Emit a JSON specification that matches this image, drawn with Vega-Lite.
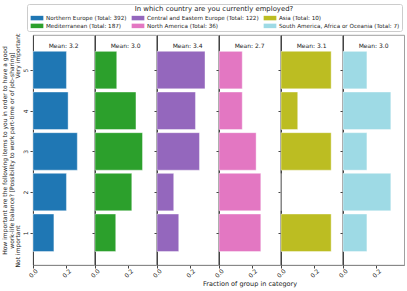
{
  "$schema": "https://vega.github.io/schema/vega-lite/v6.json",
  "padding": {"left": 0, "top": 3, "right": 5, "bottom": 0},
  "bounds": "flush",
  "spacing": 0,
  "config": {
    "font": "DejaVu Sans",
    "view": {"stroke": "#888", "strokeWidth": 0.8},
    "axis": {"grid": false, "labelFontSize": 6, "labelColor": "#222", "tickColor": "#444", "tickSize": 3, "domainColor": "#444", "titleFontSize": 6, "titleFontWeight": "normal", "titleColor": "#222"},
    "legend": {"orient": "none", "legendX": -6, "legendY": -31, "direction": "horizontal", "columns": 3, "gridAlign": "each", "titleAnchor": "middle", "titleFontSize": 6.9, "titleFontWeight": "normal", "titleColor": "#222", "titleLimit": 400, "labelLimit": 300, "labelFontSize": 5.65, "labelColor": "#222", "symbolType": "M-2.4,-0.85H2.4V0.85H-2.4Z", "symbolSize": 28, "symbolOffset": 5, "symbolStrokeWidth": 0, "symbolOpacity": 1, "strokeColor": "#ccc", "fillColor": "white", "padding": 2, "cornerRadius": 2, "rowPadding": 2, "columnPadding": 3, "labelOffset": 6, "titlePadding": 2}
  },
  "datasets": {
    "rows": [
      {"label": "Northern Europe (Total: 392)", "cat": 1, "frac": 0.125},
      {"label": "Northern Europe (Total: 392)", "cat": 2, "frac": 0.2},
      {"label": "Northern Europe (Total: 392)", "cat": 3, "frac": 0.265},
      {"label": "Northern Europe (Total: 392)", "cat": 4, "frac": 0.21},
      {"label": "Northern Europe (Total: 392)", "cat": 5, "frac": 0.2},
      {"label": "Mediterranean (Total: 187)", "cat": 1, "frac": 0.124},
      {"label": "Mediterranean (Total: 187)", "cat": 2, "frac": 0.22},
      {"label": "Mediterranean (Total: 187)", "cat": 3, "frac": 0.284},
      {"label": "Mediterranean (Total: 187)", "cat": 4, "frac": 0.245},
      {"label": "Mediterranean (Total: 187)", "cat": 5, "frac": 0.13},
      {"label": "Central and Eastern Europe (Total: 122)", "cat": 1, "frac": 0.13},
      {"label": "Central and Eastern Europe (Total: 122)", "cat": 2, "frac": 0.1},
      {"label": "Central and Eastern Europe (Total: 122)", "cat": 3, "frac": 0.254},
      {"label": "Central and Eastern Europe (Total: 122)", "cat": 4, "frac": 0.23},
      {"label": "Central and Eastern Europe (Total: 122)", "cat": 5, "frac": 0.287},
      {"label": "North America (Total: 36)", "cat": 1, "frac": 0.25},
      {"label": "North America (Total: 36)", "cat": 2, "frac": 0.25},
      {"label": "North America (Total: 36)", "cat": 3, "frac": 0.222},
      {"label": "North America (Total: 36)", "cat": 4, "frac": 0.139},
      {"label": "North America (Total: 36)", "cat": 5, "frac": 0.139},
      {"label": "Asia (Total: 10)", "cat": 1, "frac": 0.3},
      {"label": "Asia (Total: 10)", "cat": 2, "frac": 0},
      {"label": "Asia (Total: 10)", "cat": 3, "frac": 0.3},
      {"label": "Asia (Total: 10)", "cat": 4, "frac": 0.1},
      {"label": "Asia (Total: 10)", "cat": 5, "frac": 0.3},
      {"label": "South America, Africa or Oceania (Total: 7)", "cat": 1, "frac": 0.143},
      {"label": "South America, Africa or Oceania (Total: 7)", "cat": 2, "frac": 0.286},
      {"label": "South America, Africa or Oceania (Total: 7)", "cat": 3, "frac": 0.143},
      {"label": "South America, Africa or Oceania (Total: 7)", "cat": 4, "frac": 0.286},
      {"label": "South America, Africa or Oceania (Total: 7)", "cat": 5, "frac": 0.143}
    ],
    "means": [
      {"label": "Northern Europe (Total: 392)", "mean": "Mean: 3.2"},
      {"label": "Mediterranean (Total: 187)", "mean": "Mean: 3.0"},
      {"label": "Central and Eastern Europe (Total: 122)", "mean": "Mean: 3.4"},
      {"label": "North America (Total: 36)", "mean": "Mean: 2.7"},
      {"label": "Asia (Total: 10)", "mean": "Mean: 3.1"},
      {"label": "South America, Africa or Oceania (Total: 7)", "mean": "Mean: 3.0"}
    ]
  },
  "hconcat": [
    {
      "width": 61.2, "height": 230,
      "layer": [
        {
          "data": {"name": "rows"},
          "transform": [{"filter": "datum.label == 'Northern Europe (Total: 392)'"}],
          "mark": {"type": "bar", "orient": "horizontal", "size": 37.5, "stroke": "white", "strokeOpacity": 0.5, "strokeWidth": 0.8},
          "encoding": {
            "x": {"field": "frac", "type": "quantitative", "scale": {"domain": [0, 0.366], "nice": false}, "axis": {"values": [0, 0.2], "format": ".1f", "labelAngle": -45, "labelAlign": "center", "labelBaseline": "middle", "labelPadding": 5, "title": null, "domainColor": "#888"}},
            "y": {"field": "cat", "type": "quantitative", "scale": {"domain": [0.33, 5.74], "nice": false, "zero": false}, "axis": {"values": [1, 2, 3, 4, 5], "format": "d", "labelAngle": -90, "labelAlign": "center", "labelBaseline": "bottom", "labelPadding": 2, "titleLineHeight": 6.8, "titlePadding": 1, "title": ["How important are the following items to you in order to have a good", "work-life balance? [Possibility to work part-time or of job-sharing]", "Not important\u00a0\u00a0\u00a0\u00a0\u00a0\u00a0\u00a0\u00a0\u00a0\u00a0\u00a0\u00a0\u00a0\u00a0\u00a0\u00a0\u00a0\u00a0\u00a0\u00a0\u00a0\u00a0\u00a0\u00a0\u00a0\u00a0\u00a0\u00a0\u00a0\u00a0\u00a0\u00a0\u00a0\u00a0\u00a0\u00a0\u00a0\u00a0\u00a0\u00a0\u00a0\u00a0\u00a0\u00a0\u00a0\u00a0\u00a0\u00a0\u00a0\u00a0\u00a0\u00a0\u00a0\u00a0\u00a0\u00a0\u00a0\u00a0\u00a0\u00a0\u00a0\u00a0\u00a0\u00a0\u00a0\u00a0\u00a0\u00a0\u00a0\u00a0\u00a0\u00a0\u00a0\u00a0\u00a0\u00a0\u00a0Very important"]}},
            "color": {"field": "label", "type": "nominal", "scale": {"domain": ["Northern Europe (Total: 392)", "Central and Eastern Europe (Total: 122)", "Asia (Total: 10)", "Mediterranean (Total: 187)", "North America (Total: 36)", "South America, Africa or Oceania (Total: 7)"], "range": ["#1f77b4", "#9467bd", "#bcbd22", "#2ca02c", "#e377c2", "#9edae5"]}, "legend": {"title": "In which country are you currently employed?"}}
          }
        },
        {
          "data": {"name": "means"},
          "transform": [{"filter": "datum.label == 'Northern Europe (Total: 392)'"}],
          "mark": {"type": "text", "fontSize": 6, "baseline": "middle", "color": "#222"},
          "encoding": {"x": {"datum": 0.183, "type": "quantitative"}, "y": {"datum": 5.6, "type": "quantitative"}, "text": {"field": "mean"}}
        }
      ]
    },
    {
      "width": 61.2, "height": 230,
      "layer": [
        {
          "data": {"name": "rows"},
          "transform": [{"filter": "datum.label == 'Mediterranean (Total: 187)'"}],
          "mark": {"type": "bar", "orient": "horizontal", "size": 37.5, "stroke": "white", "strokeOpacity": 0.5, "strokeWidth": 0.8},
          "encoding": {
            "x": {"field": "frac", "type": "quantitative", "scale": {"domain": [0, 0.366], "nice": false}, "axis": {"values": [0, 0.2], "format": ".1f", "labelAngle": -45, "labelAlign": "center", "labelBaseline": "middle", "labelPadding": 5, "title": null, "domainColor": "#888"}},
            "y": {"field": "cat", "type": "quantitative", "scale": {"domain": [0.33, 5.74], "nice": false, "zero": false}, "axis": {"values": [1, 2, 3, 4, 5], "labels": false, "title": null}},
            "color": {"field": "label", "type": "nominal"}
          }
        },
        {
          "data": {"name": "means"},
          "transform": [{"filter": "datum.label == 'Mediterranean (Total: 187)'"}],
          "mark": {"type": "text", "fontSize": 6, "baseline": "middle", "color": "#222"},
          "encoding": {"x": {"datum": 0.183, "type": "quantitative"}, "y": {"datum": 5.6, "type": "quantitative"}, "text": {"field": "mean"}}
        }
      ]
    },
    {
      "width": 61.2, "height": 230,
      "layer": [
        {
          "data": {"name": "rows"},
          "transform": [{"filter": "datum.label == 'Central and Eastern Europe (Total: 122)'"}],
          "mark": {"type": "bar", "orient": "horizontal", "size": 37.5, "stroke": "white", "strokeOpacity": 0.5, "strokeWidth": 0.8},
          "encoding": {
            "x": {"field": "frac", "type": "quantitative", "scale": {"domain": [0, 0.366], "nice": false}, "axis": {"values": [0, 0.2], "format": ".1f", "labelAngle": -45, "labelAlign": "center", "labelBaseline": "middle", "labelPadding": 5, "title": null, "domainColor": "#888"}},
            "y": {"field": "cat", "type": "quantitative", "scale": {"domain": [0.33, 5.74], "nice": false, "zero": false}, "axis": {"values": [1, 2, 3, 4, 5], "labels": false, "title": null}},
            "color": {"field": "label", "type": "nominal"}
          }
        },
        {
          "data": {"name": "means"},
          "transform": [{"filter": "datum.label == 'Central and Eastern Europe (Total: 122)'"}],
          "mark": {"type": "text", "fontSize": 6, "baseline": "middle", "color": "#222"},
          "encoding": {"x": {"datum": 0.183, "type": "quantitative"}, "y": {"datum": 5.6, "type": "quantitative"}, "text": {"field": "mean"}}
        }
      ]
    },
    {
      "width": 61.2, "height": 230,
      "layer": [
        {
          "data": {"name": "rows"},
          "transform": [{"filter": "datum.label == 'North America (Total: 36)'"}],
          "mark": {"type": "bar", "orient": "horizontal", "size": 37.5, "stroke": "white", "strokeOpacity": 0.5, "strokeWidth": 0.8},
          "encoding": {
            "x": {"field": "frac", "type": "quantitative", "scale": {"domain": [0, 0.366], "nice": false}, "axis": {"values": [0, 0.2], "format": ".1f", "labelAngle": -45, "labelAlign": "center", "labelBaseline": "middle", "labelPadding": 5, "domainColor": "#888", "title": "Fraction of group in category", "titleFontSize": 6.5, "titlePadding": 2}},
            "y": {"field": "cat", "type": "quantitative", "scale": {"domain": [0.33, 5.74], "nice": false, "zero": false}, "axis": {"values": [1, 2, 3, 4, 5], "labels": false, "title": null}},
            "color": {"field": "label", "type": "nominal"}
          }
        },
        {
          "data": {"name": "means"},
          "transform": [{"filter": "datum.label == 'North America (Total: 36)'"}],
          "mark": {"type": "text", "fontSize": 6, "baseline": "middle", "color": "#222"},
          "encoding": {"x": {"datum": 0.183, "type": "quantitative"}, "y": {"datum": 5.6, "type": "quantitative"}, "text": {"field": "mean"}}
        }
      ]
    },
    {
      "width": 61.2, "height": 230,
      "layer": [
        {
          "data": {"name": "rows"},
          "transform": [{"filter": "datum.label == 'Asia (Total: 10)'"}],
          "mark": {"type": "bar", "orient": "horizontal", "size": 37.5, "stroke": "white", "strokeOpacity": 0.5, "strokeWidth": 0.8},
          "encoding": {
            "x": {"field": "frac", "type": "quantitative", "scale": {"domain": [0, 0.366], "nice": false}, "axis": {"values": [0, 0.2], "format": ".1f", "labelAngle": -45, "labelAlign": "center", "labelBaseline": "middle", "labelPadding": 5, "title": null, "domainColor": "#888"}},
            "y": {"field": "cat", "type": "quantitative", "scale": {"domain": [0.33, 5.74], "nice": false, "zero": false}, "axis": {"values": [1, 2, 3, 4, 5], "labels": false, "title": null}},
            "color": {"field": "label", "type": "nominal"}
          }
        },
        {
          "data": {"name": "means"},
          "transform": [{"filter": "datum.label == 'Asia (Total: 10)'"}],
          "mark": {"type": "text", "fontSize": 6, "baseline": "middle", "color": "#222"},
          "encoding": {"x": {"datum": 0.183, "type": "quantitative"}, "y": {"datum": 5.6, "type": "quantitative"}, "text": {"field": "mean"}}
        }
      ]
    },
    {
      "width": 61.2, "height": 230,
      "layer": [
        {
          "data": {"name": "rows"},
          "transform": [{"filter": "datum.label == 'South America, Africa or Oceania (Total: 7)'"}],
          "mark": {"type": "bar", "orient": "horizontal", "size": 37.5, "stroke": "white", "strokeOpacity": 0.5, "strokeWidth": 0.8},
          "encoding": {
            "x": {"field": "frac", "type": "quantitative", "scale": {"domain": [0, 0.366], "nice": false}, "axis": {"values": [0, 0.2], "format": ".1f", "labelAngle": -45, "labelAlign": "center", "labelBaseline": "middle", "labelPadding": 5, "title": null, "domainColor": "#888"}},
            "y": {"field": "cat", "type": "quantitative", "scale": {"domain": [0.33, 5.74], "nice": false, "zero": false}, "axis": {"values": [1, 2, 3, 4, 5], "labels": false, "title": null}},
            "color": {"field": "label", "type": "nominal"}
          }
        },
        {
          "data": {"name": "means"},
          "transform": [{"filter": "datum.label == 'South America, Africa or Oceania (Total: 7)'"}],
          "mark": {"type": "text", "fontSize": 6, "baseline": "middle", "color": "#222"},
          "encoding": {"x": {"datum": 0.183, "type": "quantitative"}, "y": {"datum": 5.6, "type": "quantitative"}, "text": {"field": "mean"}}
        }
      ]
    }
  ],
  "resolve": {"scale": {"color": "shared"}}
}
